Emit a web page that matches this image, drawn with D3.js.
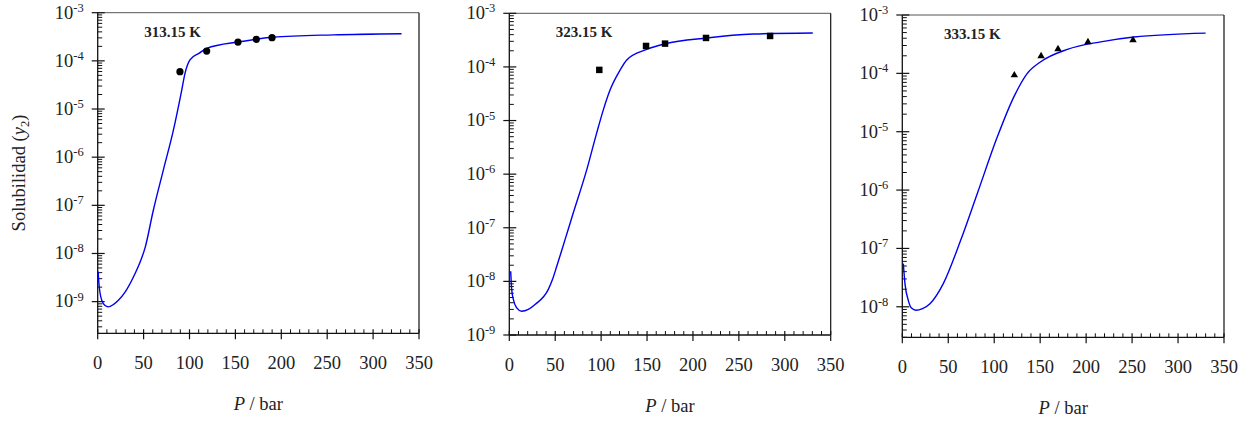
<!DOCTYPE html>
<html>
  <head>
    <title>Solubilidad vs P</title>
    <meta charset="UTF-8" />
    <style>
      body { margin: 0; background: #fff; }
      text { font-family: "Palatino Linotype", Palatino, "Book Antiqua", "Liberation Serif", serif; fill: #222; }
    </style>
  </head>
  <body>
    <script src="https://cdn.jsdelivr.net/npm/d3@7/dist/d3.min.js"></script>
    <script>
      // temperatures (one panel each)
      var temps = ["313.15 K", "323.15 K", "333.15 K"];

      // model curves, P in bar and y2
      var curveP1 = [0.5, 1.4, 4.4, 8, 11.5, 17, 22.5, 30, 40.6, 46, 51.5, 60.6, 71.5, 82.4, 91.5, 95.1, 100.5, 110.7, 118.7, 155, 191, 256.6, 331];
      var curveY1 = [4.2e-9, 2.3e-9, 1.07e-9, 8.3e-10, 7.8e-10, 8.7e-10, 1.07e-9, 1.6e-9, 3.8e-9, 6.5e-9, 1.29e-8, 7.9e-8, 5.4e-7, 3.6e-6, 2.45e-5, 5.5e-5, 1.05e-4, 1.45e-4, 1.82e-4, 2.5e-4, 3.1e-4, 3.47e-4, 3.66e-4];

      var curveP2 = [1.5, 2.6, 4.4, 8.1, 13.5, 20.7, 28, 42.5, 47, 51.6, 60.7, 69.7, 84.3, 95.2, 102.4, 109.7, 120.6, 127.9, 148.9, 169.6, 215, 265.8, 330.5];
      var curveY2 = [1.55e-8, 7.1e-9, 4.6e-9, 3.2e-9, 2.77e-9, 2.99e-9, 3.7e-9, 7.1e-9, 1.08e-8, 1.89e-8, 6.0e-8, 1.9e-7, 1.2e-6, 5.9e-6, 1.58e-5, 3.7e-5, 8.7e-5, 1.35e-4, 2.1e-4, 2.7e-4, 3.47e-4, 4.1e-4, 4.3e-4];

      var curveP3 = [1.1, 2.9, 6.5, 10, 14.9, 22, 30.1, 44.6, 63.5, 82, 103.3, 121.5, 136, 150.6, 179.5, 215.9, 252, 330];
      var curveY3 = [5.5e-8, 2.5e-8, 1.29e-8, 9.5e-9, 8.7e-9, 9.3e-9, 1.13e-8, 2.5e-8, 1.38e-7, 9.1e-7, 8.1e-6, 4.0e-5, 1.0e-4, 1.58e-4, 2.57e-4, 3.47e-4, 4.2e-4, 4.9e-4];

      // experimental points
      var expP1 = [89.6, 118.7, 152.8, 172.8, 189.9];
      var expY1 = [5.95e-5, 1.6e-4, 2.46e-4, 2.8e-4, 3.03e-4];
      var expP2 = [98, 148.9, 169.6, 214.2, 284];
      var expY2 = [8.8e-5, 2.46e-4, 2.72e-4, 3.47e-4, 3.78e-4];
      var expP3 = [121.9, 151, 169.4, 202, 251];
      var expY3 = [9.3e-5, 1.98e-4, 2.61e-4, 3.44e-4, 3.73e-4];

      var xTicks = [0, 50, 100, 150, 200, 250, 300, 350];
      var yMax = 1e-3;
      var yMins = [2.2e-10, 1e-9, 3e-9];

      var curves = [[curveP1, curveY1], [curveP2, curveY2], [curveP3, curveY3]];
      var points = [[expP1, expY1], [expP2, expY2], [expP3, expY3]];
      var symbols = [d3.symbolCircle, d3.symbolSquare, d3.symbolTriangle];
      var symbolSizes = [41, 42, 24];

      // layout of the three panels (pixels)
      var boxes = [
        { left: 97.7, right: 419, top: 12.7, bottom: 333.3, labelDx: 46.6 },
        { left: 509.3, right: 830.7, top: 13.3, bottom: 335, labelDx: 46.4 },
        { left: 902.3, right: 1224, top: 15, bottom: 337.3, labelDx: 41.7 }
      ];

      var svg = d3.select("body").append("svg")
        .attr("width", 1254)
        .attr("height", 425);

      boxes.forEach(function(b, i) {
        var g = svg.append("g");
        var x = d3.scaleLinear().domain([0, 350]).range([b.left, b.right]);
        var y = d3.scaleLog().domain([yMins[i], yMax]).range([b.bottom, b.top]);

        // frame: top and right
        g.append("line").attr("x1", b.left).attr("x2", b.right).attr("y1", b.top).attr("y2", b.top)
          .attr("stroke", "#555").attr("stroke-width", 1);
        g.append("line").attr("x1", b.right).attr("x2", b.right).attr("y1", b.top).attr("y2", b.bottom)
          .attr("stroke", "#111").attr("stroke-width", 1.2);

        // x minor ticks (inside)
        var xMinor = d3.range(0, 351, 10).filter(function(v) { return v % 50 != 0; });
        g.selectAll(".xminor").data(xMinor).enter().append("line")
          .attr("x1", x).attr("x2", x)
          .attr("y1", b.bottom).attr("y2", b.bottom - 4)
          .attr("stroke", "#111").attr("stroke-width", 1);
        // x major ticks (cross)
        g.selectAll(".xmajor").data(xTicks).enter().append("line")
          .attr("x1", x).attr("x2", x)
          .attr("y1", b.bottom - 4).attr("y2", b.bottom + 6)
          .attr("stroke", "#111").attr("stroke-width", 1.2);
        g.selectAll(".xlab").data(xTicks).enter().append("text")
          .attr("x", x).attr("y", b.bottom + 36)
          .attr("text-anchor", "middle")
          .style("font-size", "18.5px")
          .text(function(d) { return d; });

        // y ticks
        var lo = Math.floor(Math.log10(yMins[i]));
        var majors = [], minors = [];
        for (var e = lo; e <= -3; e++) {
          var v = Math.pow(10, e);
          if (v >= yMins[i] * 0.999) majors.push(e);
          for (var k = 2; k <= 9; k++) {
            var m = k * Math.pow(10, e);
            if (m >= yMins[i] && m < yMax) minors.push(m);
          }
        }
        g.selectAll(".yminor").data(minors).enter().append("line")
          .attr("x1", b.left).attr("x2", b.left + 4.5)
          .attr("y1", y).attr("y2", y)
          .attr("stroke", "#111").attr("stroke-width", 1);
        g.selectAll(".ymajor").data(majors).enter().append("line")
          .attr("x1", b.left - 6).attr("x2", b.left + 7)
          .attr("y1", function(d) { return y(Math.pow(10, d)); })
          .attr("y2", function(d) { return y(Math.pow(10, d)); })
          .attr("stroke", "#111").attr("stroke-width", 1.2);
        var yl = g.selectAll(".ylab").data(majors).enter().append("text")
          .attr("x", b.left - 14)
          .attr("y", function(d) { return y(Math.pow(10, d)) + 5.8; })
          .attr("text-anchor", "end")
          .style("font-size", "18.5px");
        yl.append("tspan").text("10");
        yl.append("tspan").attr("dy", -6.8).style("font-size", "12.5px").text(function(d) { return d; });

        // axes lines left and bottom
        g.append("line").attr("x1", b.left).attr("x2", b.left).attr("y1", b.top).attr("y2", b.bottom)
          .attr("stroke", "#111").attr("stroke-width", 1.3);
        g.append("line").attr("x1", b.left).attr("x2", b.right).attr("y1", b.bottom).attr("y2", b.bottom)
          .attr("stroke", "#111").attr("stroke-width", 1.3);

        // model curve
        var cd = curves[i][0].map(function(p, j) { return { p: p, v: curves[i][1][j] }; });
        var line = d3.line()
          .x(function(d) { return x(d.p); })
          .y(function(d) { return y(d.v); })
          .curve(d3.curveMonotoneX);
        g.append("path").datum(cd)
          .attr("d", line)
          .attr("fill", "none")
          .attr("stroke", "#0000ee")
          .attr("stroke-width", 1.4);

        // experimental points
        var pd = points[i][0].map(function(p, j) { return { p: p, v: points[i][1][j] }; });
        g.selectAll(".pt").data(pd).enter().append("path")
          .attr("transform", function(d) { return "translate(" + x(d.p) + "," + y(d.v) + ")"; })
          .attr("d", d3.symbol().type(symbols[i]).size(symbolSizes[i]))
          .attr("fill", "#000");

        // temperature label
        g.append("text")
          .attr("x", b.left + b.labelDx).attr("y", b.top + 24)
          .style("font-size", "15px").style("font-weight", "bold")
          .text(temps[i]);

        // x title
        var xt = g.append("text")
          .attr("x", (b.left + b.right) / 2).attr("y", b.bottom + 77)
          .attr("text-anchor", "middle")
          .style("font-size", "18.5px");
        xt.append("tspan").style("font-style", "italic").text("P");
        xt.append("tspan").text(" / bar");

        if (i == 0) {
          var yt = g.append("text")
            .attr("transform", "translate(25," + ((b.top + b.bottom) / 2) + ") rotate(-90)")
            .attr("text-anchor", "middle")
            .style("font-size", "18.5px");
          yt.append("tspan").text("Solubilidad (");
          yt.append("tspan").style("font-style", "italic").text("y");
          yt.append("tspan").attr("dy", 4).style("font-size", "12.5px").text("2");
          yt.append("tspan").attr("dy", -4).text(")");
        }
      });
    </script>
  </body>
</html>
